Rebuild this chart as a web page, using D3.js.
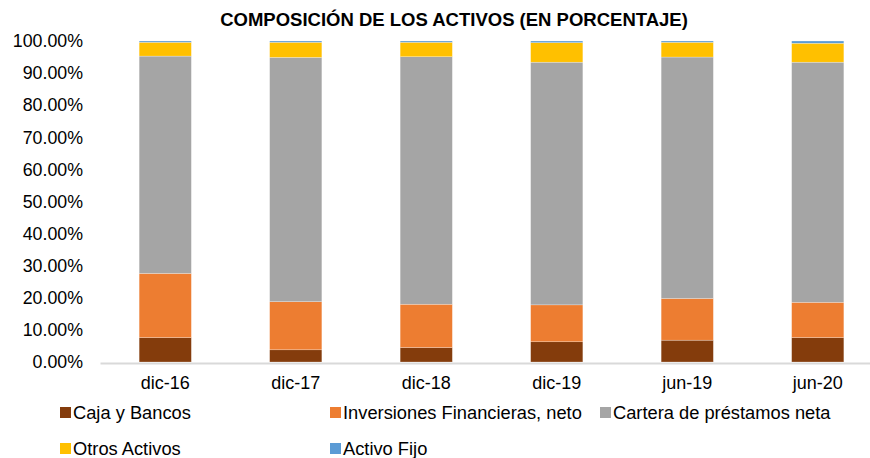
<!DOCTYPE html>
<html>
<head>
<meta charset="utf-8">
<script src="https://cdn.jsdelivr.net/npm/d3@7"></script>
<style>
  body { margin: 0; background: #fff; }
  svg { display: block; font-family: Arial, "Liberation Sans", sans-serif; }
</style>
</head>
<body>
<div id="container"></div>
<script>
const periods = ['dic-16', 'dic-17', 'dic-18', 'dic-19', 'jun-19', 'jun-20'];
const seriesNames = ['Caja y Bancos', 'Inversiones Financieras, neto', 'Cartera de préstamos neta', 'Otros Activos', 'Activo Fijo'];
const caja = [7.6, 3.8, 4.5, 6.3, 6.8, 7.6];
const inversiones = [20.0, 15.0, 13.5, 11.5, 13.0, 11.0];
const cartera = [67.7, 76.1, 77.1, 75.6, 75.2, 74.8];
const otros = [4.3, 4.7, 4.5, 6.1, 4.6, 5.9];
const activoFijo = [0.4, 0.4, 0.4, 0.5, 0.4, 0.7];
const yTicks = [0, 0.1, 0.2, 0.3, 0.4, 0.5, 0.6, 0.7, 0.8, 0.9, 1];

const colors = ['#843C0C', '#ED7D31', '#A5A5A5', '#FFC000', '#5B9BD5'];
const width = 870;
const height = 458;

// table for d3.stack
const allSeries = [caja, inversiones, cartera, otros, activoFijo];
const rows = periods.map((p, i) => {
    const row = { period: p };
    seriesNames.forEach((name, k) => { row[name] = allSeries[k][i] / 100; });
    return row;
});
const stacked = d3.stack().keys(seriesNames)(rows);

const svg = d3.select('#container').append('svg')
    .attr('width', width)
    .attr('height', height);

const x = d3.scaleBand()
    .domain(periods)
    .range([100, 883])
    .paddingInner(0.6)
    .paddingOuter(0.3);

const y = d3.scaleLinear()
    .domain([0, 1])
    .range([362, 41]);

// title
svg.append('text')
    .attr('x', 454)
    .attr('y', 26)
    .attr('text-anchor', 'middle')
    .style('font-size', '18.5px')
    .style('font-weight', 'bold')
    .attr('fill', '#000')
    .text('COMPOSICIÓN DE LOS ACTIVOS (EN PORCENTAJE)');

// y axis
const yAxis = svg.append('g')
    .attr('transform', 'translate(85,0)')
    .call(d3.axisLeft(y).tickValues(yTicks).tickFormat(d3.format('.2%')).tickSize(0).tickPadding(2));
yAxis.select('.domain').remove();
yAxis.selectAll('text')
    .style('font-size', '17.8px')
    .style('font-family', 'Arial, "Liberation Sans", sans-serif')
    .attr('fill', '#000');

// bars
svg.append('g')
    .selectAll('g')
    .data(stacked)
    .enter().append('g')
    .attr('fill', (d, i) => colors[i])
    .selectAll('rect')
    .data(d => d)
    .enter().append('rect')
    .attr('x', d => x(d.data.period))
    .attr('y', d => y(d[1]))
    .attr('width', x.bandwidth())
    .attr('height', d => y(d[0]) - y(d[1]))
    .attr('stroke', '#fff')
    .attr('stroke-opacity', 0.5)
    .attr('stroke-width', 0.5);

// x axis
const xAxis = svg.append('g')
    .attr('transform', 'translate(0,363)')
    .call(d3.axisBottom(x).tickSize(0).tickPadding(13));
xAxis.select('.domain')
    .attr('stroke', '#d9d9d9')
    .attr('stroke-width', 2);
xAxis.selectAll('text')
    .style('font-size', '18px')
    .style('font-family', 'Arial, "Liberation Sans", sans-serif')
    .attr('fill', '#000');

// legend
const legendPos = [
    { x: 60, y: 413 }, { x: 330, y: 413 }, { x: 600, y: 413 },
    { x: 60, y: 449 }, { x: 330, y: 449 }
];
const legend = svg.append('g')
    .selectAll('g')
    .data(seriesNames)
    .enter().append('g')
    .attr('transform', (d, i) => `translate(${legendPos[i].x},${legendPos[i].y})`);
legend.append('rect')
    .attr('x', 0)
    .attr('y', -6)
    .attr('width', 11)
    .attr('height', 11)
    .attr('fill', (d, i) => colors[i]);
legend.append('text')
    .attr('x', 13)
    .attr('y', 6)
    .style('font-size', '18.3px')
    .attr('fill', '#000')
    .text(d => d);
</script>
</body>
</html>
